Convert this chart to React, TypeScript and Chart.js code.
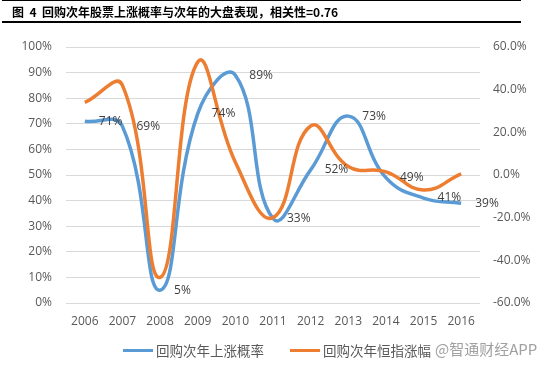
import React, { useEffect, useRef } from "react";
import { Chart, registerables } from "chart.js";

Chart.register(...registerables);

const years = ["2006", "2007", "2008", "2009", "2010", "2011", "2012", "2013", "2014", "2015", "2016"];
const upProbability = [71, 69, 5, 74, 89, 33, 52, 73, 49, 41, 39];
const hsiChange = [34, 42, -48, 53, 6, -20, 23, 4, 1.5, -7, 0.5];
const seriesNames = ["回购次年上涨概率", "回购次年恒指涨幅"];
const titleText = "图  4  回购次年股票上涨概率与次年的大盘表现，相关性=0.76";
const watermark = "@智通财经APP";

const BLUE = "#5B9BD5";
const ORANGE = "#ED7D31";
const FONT = "'Open Sans', 'Noto Sans CJK SC', sans-serif";

const labelPlugin = {
  id: "pointLabels",
  afterDatasetsDraw(chart: any) {
    const meta = chart.getDatasetMeta(1);
    const ctx = chart.ctx;
    ctx.save();
    ctx.font = `12px ${FONT}`;
    ctx.fillStyle = "#404040";
    ctx.textAlign = "left";
    ctx.textBaseline = "middle";
    meta.data.forEach((pt: any, i: number) => {
      ctx.fillText(upProbability[i] + "%", pt.x + 14, pt.y);
    });
    ctx.restore();
  },
};

export default function App() {
  const ref = useRef<HTMLCanvasElement>(null);
  useEffect(() => {
    if (!ref.current) return;
    const chart = new Chart(ref.current, {
      type: "line",
      data: {
        labels: years,
        datasets: [
          {
            label: seriesNames[1],
            data: hsiChange,
            yAxisID: "y1",
            borderColor: ORANGE,
            backgroundColor: ORANGE,
            borderWidth: 3.5,
            pointRadius: 0,
            tension: 0.45,
            order: 0,
          },
          {
            label: seriesNames[0],
            data: upProbability,
            yAxisID: "y",
            borderColor: BLUE,
            backgroundColor: BLUE,
            borderWidth: 3.5,
            pointRadius: 0,
            tension: 0.45,
            order: 1,
          },
        ],
      },
      options: {
        responsive: false,
        animation: false,
        layout: { padding: { top: 47, bottom: 34, left: 0, right: 0 } },
        plugins: { legend: { display: false }, tooltip: { enabled: false }, title: { display: false } },
        scales: {
          x: {
            offset: true,
            grid: { display: false, drawTicks: false, offset: true },
            border: { display: false },
            ticks: { color: "#595959", font: { size: 12, family: FONT }, padding: 11, maxRotation: 0 },
            afterFit: (s: any) => { s.height = 30; },
          },
          y: {
            position: "left",
            min: 0,
            max: 100,
            ticks: { stepSize: 10, color: "#595959", font: { size: 12, family: FONT }, padding: 14, callback: (v: any) => v + "%" },
            grid: { color: "#D9D9D9", lineWidth: 1, drawTicks: false },
            border: { display: false },
            afterFit: (s: any) => { s.width = 66; },
          },
          y1: {
            position: "right",
            min: -60,
            max: 60,
            ticks: { stepSize: 20, color: "#595959", font: { size: 12, family: FONT }, padding: 13, callback: (v: any) => Number(v).toFixed(1) + "%" },
            grid: { display: false, drawTicks: false },
            border: { display: false },
            afterFit: (s: any) => { s.width = 74; },
          },
        },
      },
      plugins: [labelPlugin],
    });
    return () => chart.destroy();
  }, []);

  const legendText: React.CSSProperties = {
    position: "absolute",
    top: 341,
    fontFamily: "'Noto Sans CJK SC', sans-serif",
    fontSize: 13.5,
    color: "#595959",
    lineHeight: "18px",
    whiteSpace: "nowrap",
  };
  const legendLine = (color: string, left: number): React.CSSProperties => ({
    position: "absolute",
    left,
    top: 349,
    width: 30,
    height: 3,
    background: color,
  });

  return (
    <div style={{ position: "fixed", left: 0, top: 0, width: 554, height: 367, background: "#fff", overflow: "hidden" }}>
      <canvas ref={ref} width={554} height={367} style={{ position: "absolute", left: 0, top: 0, width: 554, height: 367 }} />
      <div style={{ position: "absolute", left: 2, top: 0, width: 519, height: 1, background: "#000" }} />
      <div style={{ position: "absolute", left: 2, top: 21, width: 519, height: 1.5, background: "#000" }} />
      <div style={{ position: "absolute", left: 12, top: 3, fontFamily: "'Noto Sans CJK SC', sans-serif", fontWeight: 700, fontSize: 12, lineHeight: "18px", color: "#000", whiteSpace: "pre" }}>{titleText}</div>
      <div style={legendLine(BLUE, 123)} />
      <div style={{ ...legendText, left: 156 }}>{seriesNames[0]}</div>
      <div style={legendLine(ORANGE, 290)} />
      <div style={{ ...legendText, left: 323 }}>{seriesNames[1]}</div>
      <div style={{ ...legendText, left: 435, fontSize: 15, color: "#a0a0a0", top: 340 }}>{watermark}</div>
    </div>
  );
}
